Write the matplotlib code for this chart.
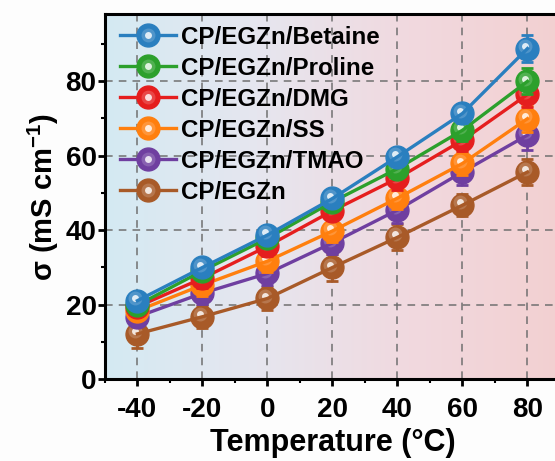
import matplotlib
matplotlib.use("Agg")
import matplotlib.pyplot as plt
import matplotlib.transforms as mtransforms
from matplotlib.colors import LinearSegmentedColormap, to_rgb
from matplotlib.lines import Line2D
from matplotlib.legend_handler import HandlerTuple
import numpy as np

plt.rcParams['font.family'] = ['Liberation Sans', 'DejaVu Sans']
plt.rcParams['font.weight'] = 'bold'
plt.rcParams['axes.unicode_minus'] = False
plt.rcParams['mathtext.fontset'] = 'custom'
plt.rcParams['mathtext.bf'] = 'Liberation Sans:bold'
plt.rcParams['mathtext.rm'] = 'Liberation Sans:bold'

# data
temps = [-40, -20, 0, 20, 40, 60, 80]
labels = ["CP/EGZn/Betaine", "CP/EGZn/Proline", "CP/EGZn/DMG",
          "CP/EGZn/SS", "CP/EGZn/TMAO", "CP/EGZn"]
betaine = [21.1, 30.0, 38.7, 48.5, 59.7, 71.3, 88.7]
proline = [19.9, 29.1, 37.8, 47.6, 56.5, 66.8, 79.9]
dmg = [19.5, 27.1, 35.7, 45.2, 53.9, 64.1, 76.4]
ss = [18.4, 25.3, 31.7, 39.8, 48.6, 57.9, 69.9]
tmao = [16.8, 23.1, 28.4, 36.6, 45.4, 55.6, 65.5]
base = [12.2, 16.8, 21.7, 30.0, 38.1, 46.7, 55.6]
err_betaine = [2.0, 2.0, 2.0, 2.0, 2.0, 2.5, 3.5]
err_proline = [2.0, 2.0, 2.0, 2.0, 2.5, 3.0, 3.5]
err_dmg = [2.5, 2.5, 2.5, 2.5, 3.0, 3.0, 3.5]
err_ss = [2.5, 3.0, 3.0, 3.0, 3.0, 3.0, 3.5]
err_tmao = [2.5, 3.0, 3.0, 3.0, 3.5, 3.5, 4.0]
err_base = [3.8, 3.0, 3.0, 3.5, 3.5, 3.0, 3.5]

series = [betaine, proline, dmg, ss, tmao, base]
errors = [err_betaine, err_proline, err_dmg, err_ss, err_tmao, err_base]
colors = ["#2a7fbf", "#2ca02c", "#e51e1e", "#ff7f0e", "#6f3fa0", "#a85a28"]

fig = plt.figure(figsize=(5.55, 4.61), dpi=100)
fig.patch.set_facecolor("#fdfdfd")
ax = fig.add_axes([0.189, 0.177, 0.82, 0.793])

xmin, xmax, ymin, ymax = -50, 90, 0, 98

# horizontal background gradient, light blue -> pink
cmap = LinearSegmentedColormap.from_list(
    "bg", ["#d4eaf3", "#e6e6ef", "#f1d9df", "#f3d0d1"])
grad = np.linspace(0, 1, 256).reshape(1, -1)
ax.imshow(grad, cmap=cmap, aspect="auto", extent=[xmin, xmax, ymin, ymax],
          zorder=0)

ax.grid(True, color="#707070", linestyle=(0, (5, 4)), linewidth=1.1, zorder=1)

def lighten(c, f):
    r, g, b = to_rgb(c)
    return (r + (1 - r) * f, g + (1 - g) * f, b + (1 - b) * f)

shift = mtransforms.ScaledTranslation(-2 / 72, 2 / 72, fig.dpi_scale_trans)
handles = []
for i, (y, e, c) in enumerate(zip(series, errors, colors)):
    z = 10 - i
    ax.errorbar(temps, y, yerr=e, color=c, lw=2.4, capsize=4, capthick=2,
                elinewidth=2, zorder=z)
    ax.plot(temps, y, "o", ms=16.5, color=c, mec=c, zorder=z)
    ax.plot(temps, y, "o", ms=10, color=lighten(c, 0.3), mec="none",
            alpha=0.6, zorder=z, transform=ax.transData + shift)
    ax.plot(temps, y, "o", ms=5, color=lighten(c, 0.85), mec="none", zorder=z,
            transform=ax.transData + shift)
    h1 = Line2D([], [], color=c, lw=2.4, marker="o", ms=16.5)
    h2 = Line2D([], [], ls="none", marker="o", ms=10, color=lighten(c, 0.3),
                mec="none", alpha=0.6)
    h3 = Line2D([], [], ls="none", marker="o", ms=5, color=lighten(c, 0.85),
                mec="none")
    handles.append((h1, h2, h3))

ax.set_xlim(xmin, xmax)
ax.set_ylim(ymin, ymax)
ax.set_xticks(temps)
ax.set_xticks(np.arange(-50, 91, 10), minor=True)
ax.set_yticks([0, 20, 40, 60, 80])
ax.set_yticks(np.arange(0, 91, 10), minor=True)
ax.tick_params(which="major", direction="out", length=5, width=2,
               labelsize=20)
ax.tick_params(axis="x", which="major", pad=8)
ax.tick_params(axis="y", which="major", pad=1)
ax.tick_params(which="minor", direction="out", length=3, width=1.5)
for s in ax.spines.values():
    s.set_linewidth(2.2)

ax.set_xlabel("Temperature (°C)", fontsize=22, fontweight="bold", labelpad=3)
ax.set_ylabel("σ (mS cm$^{-1}$)", fontsize=21, fontweight="bold",
              labelpad=3)

leg = ax.legend(handles, labels, handler_map={tuple: HandlerTuple(ndivide=1)},
                loc="upper left", frameon=False, fontsize=17.4,
                handlelength=2.3, handletextpad=0.2, labelspacing=0.33,
                borderaxespad=0.1, bbox_to_anchor=(0.007, 1.0))
for t in leg.get_texts():
    t.set_fontweight("bold")

fig.savefig("out.png", dpi=100, facecolor=fig.get_facecolor())
